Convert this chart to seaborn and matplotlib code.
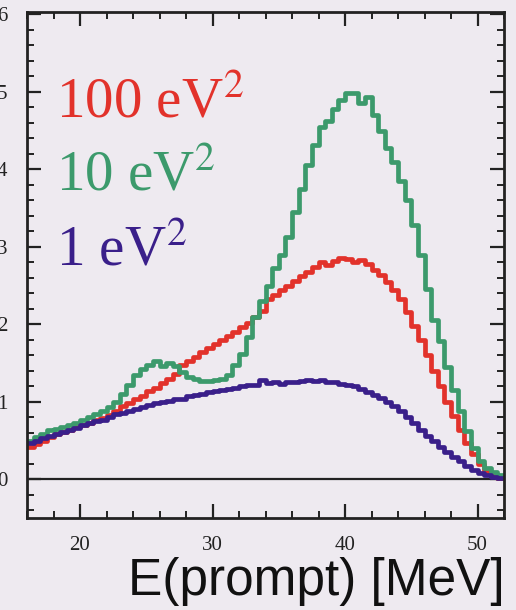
import numpy as np
import pandas as pd
import seaborn as sns
import matplotlib.pyplot as plt
from matplotlib.ticker import MultipleLocator

# energy bins (MeV), 0.5 MeV wide
bin_edges = [16.0 + 0.5 * i for i in range(73)]
bin_centers = [e + 0.25 for e in bin_edges[:-1]]

# spectra, one value per bin
dm1 = [0.47, 0.50, 0.53, 0.56, 0.59, 0.61, 0.64, 0.66, 0.70, 0.72, 0.75, 0.77,
       0.80, 0.84, 0.86, 0.88, 0.91, 0.93, 0.96, 0.98, 1.00, 1.01, 1.04, 1.04,
       1.07, 1.09, 1.10, 1.12, 1.14, 1.15, 1.17, 1.18, 1.20, 1.21, 1.22, 1.28,
       1.24, 1.25, 1.23, 1.26, 1.25, 1.27, 1.28, 1.27, 1.28, 1.26, 1.25, 1.23,
       1.21, 1.20, 1.16, 1.13, 1.09, 1.05, 1.00, 0.95, 0.88, 0.80, 0.72, 0.64,
       0.56, 0.49, 0.42, 0.35, 0.29, 0.23, 0.17, 0.12, 0.08, 0.05, 0.03, 0.02]

dm10 = [0.50, 0.55, 0.58, 0.63, 0.65, 0.67, 0.70, 0.72, 0.76, 0.80, 0.84, 0.88,
        0.93, 1.00, 1.10, 1.22, 1.35, 1.42, 1.47, 1.52, 1.46, 1.50, 1.46, 1.38,
        1.32, 1.29, 1.27, 1.27, 1.28, 1.30, 1.35, 1.48, 1.62, 1.84, 2.10, 2.30,
        2.50, 2.72, 2.90, 3.12, 3.45, 3.75, 4.05, 4.32, 4.55, 4.62, 4.78, 4.90,
        4.98, 4.98, 4.86, 4.93, 4.70, 4.50, 4.28, 4.10, 3.85, 3.60, 3.28, 2.90,
        2.45, 2.05, 1.78, 1.45, 1.15, 0.88, 0.62, 0.40, 0.24, 0.14, 0.09, 0.06]

dm100 = [0.42, 0.46, 0.50, 0.55, 0.58, 0.61, 0.64, 0.67, 0.70, 0.73, 0.76, 0.79,
         0.83, 0.88, 0.94, 0.99, 1.04, 1.08, 1.14, 1.18, 1.24, 1.30, 1.36, 1.48,
         1.53, 1.58, 1.64, 1.70, 1.75, 1.80, 1.85, 1.90, 1.96, 2.02, 2.10, 2.17,
         2.32, 2.38, 2.44, 2.50, 2.56, 2.62, 2.68, 2.74, 2.80, 2.76, 2.82, 2.86,
         2.84, 2.80, 2.83, 2.78, 2.70, 2.64, 2.54, 2.44, 2.32, 2.16, 1.98, 1.80,
         1.60, 1.40, 1.20, 1.00, 0.82, 0.64, 0.47, 0.32, 0.20, 0.10, 0.05, 0.02]

labels = ["100 eV$^{2}$", "10 eV$^{2}$", "1 eV$^{2}$"]
colors = ["#e2322b", "#3c9a6c", "#3a1f8a"]
x_ticks = [20, 30, 40, 50]

bg = "#eeeaf0"
sns.set_theme(style="ticks")
plt.rcParams["font.family"] = ["Liberation Serif", "DejaVu Serif"]
plt.rcParams["mathtext.fontset"] = "stix"

fig = plt.figure(figsize=(5.16, 6.10), dpi=100, facecolor=bg)
ax = fig.add_axes([27 / 516, 1 - 518 / 610, 477 / 516, 506 / 610], facecolor=bg)

# draw red, green, then blue on top
for vals, c in zip([dm100, dm10, dm1], colors):
    df = pd.DataFrame({"E": bin_centers, "w": vals})
    sns.histplot(data=df, x="E", weights="w", bins=bin_edges, element="step",
                 fill=False, color=c, linewidth=3.4, ax=ax)

ax.axhline(0, color="#222222", linewidth=1.6, zorder=1)

ax.set_xlim(16, 52)
ax.set_ylim(-0.5, 6.03)
ax.set_xticks(x_ticks)
ax.xaxis.set_minor_locator(MultipleLocator(2))
ax.yaxis.set_major_locator(MultipleLocator(1))
ax.yaxis.set_minor_locator(MultipleLocator(0.2))
ax.tick_params(which="both", direction="in", top=True, right=True,
               colors="#222222", labelsize=15)
ax.tick_params(which="major", length=10, width=1.6)
ax.tick_params(which="minor", length=5, width=1.4)
ax.tick_params(axis="x", pad=13)
ax.tick_params(axis="y", pad=14)
for s in ax.spines.values():
    s.set_color("#222222")
    s.set_linewidth(2)

ax.set_xlabel("")
ax.set_ylabel("")

# legend as coloured labels
for lab, c, yv in zip(labels, colors, [4.67, 3.73, 2.76]):
    ax.text(18.2, yv, lab, color=c, fontsize=41, ha="left", va="baseline")

fig.text(505 / 516, 1 - 595 / 610, "E(prompt) [MeV]", fontsize=37,
         family=["Liberation Sans", "DejaVu Sans"], ha="right", va="baseline",
         color="#111111")

fig.savefig("out.png", dpi=100, facecolor=bg)
